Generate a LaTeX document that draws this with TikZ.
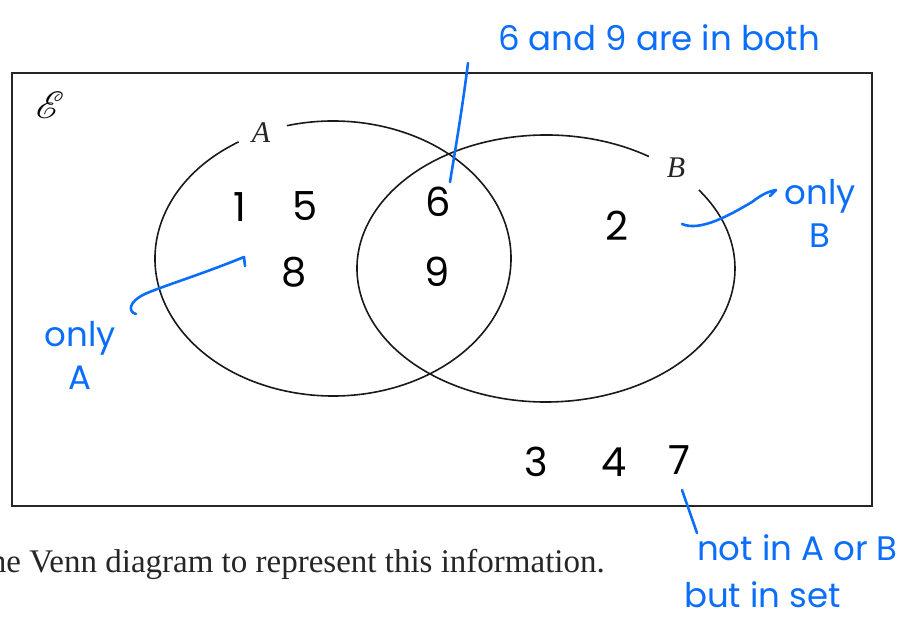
\documentclass[tikz,border=0pt]{standalone}
\usepackage{fontspec}
\usepackage{mathrsfs}
\setmainfont{Liberation Serif}
\newfontfamily\hand{Poppins}
\definecolor{pen}{RGB}{10,110,250}
\begin{document}
\begin{tikzpicture}[x=1pt,y=1pt,
 frame/.style={draw=black!85, line width=1.6pt},
 setline/.style={draw=black!90, line width=1.6pt},
 setlabel/.style={font=\fontsize{30}{30}\selectfont\itshape, inner sep=0pt, text=black!85},
 num/.style={font=\hand\fontsize{40}{40}\selectfont, inner sep=0pt},
 note/.style={font=\hand\fontsize{34}{43}\selectfont, text=pen, inner sep=0pt, align=center},
 penline/.style={draw=pen, line width=2.6pt, line cap=round, line join=round}]
\useasboundingbox (0,0) rectangle (922,621);
% universal set frame
\node[frame, minimum width=860pt, minimum height=433pt, inner sep=0pt] (U) at (442,331.5) {};
\node[inner sep=0pt, text=black] (E) at (50,516) {\scalebox{3.8}{$\mathscr{E}$}};
% set A
\coordinate (cA) at (333,362.5);
\draw[setline] ([shift={(122:178pt and 137.5pt)}]cA) arc[start angle=122, end angle=465, x radius=178pt, y radius=137.5pt];
\node[setlabel] (lA) at (261,488) {A};
% set B
\coordinate (cB) at (546,352.5);
\draw[setline] ([shift={(57:189pt and 133.5pt)}]cB) arc[start angle=57, end angle=396, x radius=189pt, y radius=133.5pt];
\node[setlabel] (lB) at (676,453) {B};
% elements
\node[num] (n1) at (240,414) {1};
\node[num] (n5) at (305,415) {5};
\node[num] (n8) at (294,349) {8};
\node[num] (n6) at (438,419) {6};
\node[num] (n9) at (437,349) {9};
\node[num] (n2) at (617,395) {2};
\node[num] (n3) at (536,159) {3};
\node[num] (n4) at (614,159) {4};
\node[num] (n7) at (679,161) {7};
% question text
\node[anchor=base east, inner sep=0pt, font=\fontsize{33}{33}\selectfont, text=black!85] (q) at (605,48) {he Venn diagram to represent this information.};
% annotations
\node[note] (both) at (659,583) {6 and 9 are in both};
\node[note] (onlyB) at (820,408) {only\\B};
\node[note] (onlyA) at (80,266) {only\\A};
\node[note, anchor=west] (notin) at (697,73) {not in A or B};
\node[note, anchor=west] (butin) at (684,26) {but in set};
% annotation strokes
\coordinate (t1) at (468,558);
\coordinate (t2) at (450,439);
\draw[penline] (t1) .. controls (462,510) and (455,470) .. (t2);
\coordinate (a1) at (245,355);
\coordinate (a2) at (244,364);
\coordinate (a3) at (136,307);
\draw[penline] (a1) -- (a2) .. controls (200,346) and (160,334) .. (145,327) .. controls (128,319) and (128,309) .. (a3);
\coordinate (b1) at (682,397);
\coordinate (b2) at (776,431);
\draw[penline] (b1) .. controls (700,389) and (730,406) .. (752,419) .. controls (760,425) and (766,429) .. (b2) -- (770,425);
\coordinate (c1) at (682,131);
\coordinate (c2) at (697,88);
\draw[penline] (c1) -- (c2);
\end{tikzpicture}
\end{document}
